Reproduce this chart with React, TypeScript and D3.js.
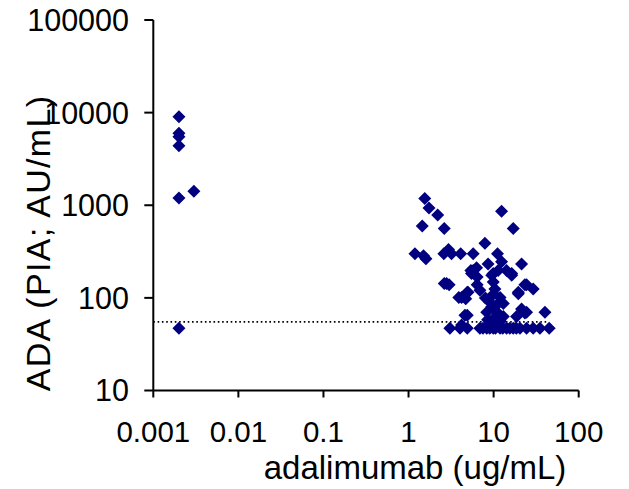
import React from "react";
import * as d3 from "d3";

const xTicks = [0.001, 0.01, 0.1, 1, 10, 100];
const yTicks = [10, 100, 1000, 10000, 100000];
const xTickLabels = ["0.001", "0.01", "0.1", "1", "10", "100"];
const yTickLabels = ["10", "100", "1000", "10000", "100000"];

const adaX = [
  0.002, 0.002, 0.002, 0.002, 0.002, 0.003, 0.002,
  1.55, 1.74, 2.2, 1.45, 2.63, 12.4, 17.0, 7.9,
  1.19, 1.5, 1.6, 2.6, 2.95, 3.2, 4.1, 5.75, 11.1, 12.4,
  8.6, 6.3, 5.4, 21.3, 14.2, 11.3, 9.5, 16.3, 6.4,
  2.63, 3.0, 6.4, 9.9, 23.3, 29.2, 19.5, 6.9, 10.35,
  3.9, 4.7, 4.9, 11.9, 13.0, 10.8, 21.3, 24.4, 40.1,
  4.9, 8.3, 13.0, 18.6, 2.8, 5.5, 4.2, 5.0, 4.6,
  16.3, 9.9, 24.4, 19.5, 23.3, 5.75, 8.0, 9.0, 10.0, 9.5, 11.0, 10.0, 8.5, 12.0,
  4.2, 9.0, 11.0,
  3.06, 4.02, 4.9, 6.9, 8.3, 9.9, 11.9, 14.2, 17.0, 20.4, 24.4, 29.2, 35.0, 45.0,
  7.5, 9.0, 10.5, 12.8, 15.5, 18.5,
];
const adaY = [
  9000, 6000, 5500, 4400, 1200, 1420, 47,
  1180, 935, 785, 597, 560, 861, 560, 388,
  300, 285, 265, 300, 332, 300, 300, 300, 300, 246,
  232, 212, 197, 232, 197, 197, 176, 176, 168,
  143, 139, 139, 148, 139, 125, 111, 121, 125,
  101, 98, 115, 101, 87, 83, 76, 70, 70,
  65, 70, 63, 63, 143, 183, 101, 115, 65,
  183, 183, 139, 115, 68.5, 197, 100, 90, 110, 80, 70, 60, 58, 56,
  51, 52, 53,
  47, 47, 47, 47, 47, 47, 47, 47, 47, 47, 47, 47, 47, 47,
  47, 47, 47, 47, 47, 47,
];
const cutoffX = [0.001, 42];
const cutoffY = [55, 55];

const W = 629;
const H = 489;
const FONT = "'Liberation Sans', Arial, sans-serif";

export default function App() {
  const x = d3.scaleLog().domain([0.001, 100]).range([153.3, 578.7]);
  const y = d3.scaleLog().domain([10, 100000]).range([390.5, 20]);
  const r = 6.5;
  const diamond = (cx: number, cy: number) =>
    `M${cx},${cy - r}L${cx + r},${cy}L${cx},${cy + r}L${cx - r},${cy}Z`;
  const line = d3
    .line<number>()
    .x((d) => x(d))
    .y((_, i) => y(cutoffY[i]));

  return (
    <svg
      width={W}
      height={H}
      style={{ position: "absolute", left: 0, top: 0, background: "#fff" }}
      fontFamily={FONT}
    >
      <rect width={W} height={H} fill="#fff" />
      <path
        d={line(cutoffX) || ""}
        stroke="#000"
        strokeWidth={1.6}
        strokeDasharray="1.6,2.7"
        fill="none"
      />
      {adaX.map((v, i) => (
        <path key={i} d={diamond(x(v), y(adaY[i]))} fill="#000080" />
      ))}
      <line x1={x(0.001)} x2={x(0.001)} y1={y(100000)} y2={y(10)} stroke="#000" strokeWidth={2} />
      {yTicks.map((t, i) => (
        <g key={t}>
          <line x1={x(0.001) - 9} x2={x(0.001)} y1={y(t)} y2={y(t)} stroke="#000" strokeWidth={2} />
          <text
            x={129}
            y={y(t)}
            dy="0.36em"
            textAnchor="end"
            fontSize={30.5}
            fill="#000"
          >
            {yTickLabels[i]}
          </text>
        </g>
      ))}
      <line x1={x(0.001)} x2={x(100)} y1={y(10)} y2={y(10)} stroke="#000" strokeWidth={2} />
      {xTicks.map((t, i) => (
        <g key={t}>
          <line x1={x(t)} x2={x(t)} y1={y(10)} y2={y(10) + 7} stroke="#000" strokeWidth={2} />
          <text x={x(t)} y={442} textAnchor="middle" fontSize={29.5} fill="#000">
            {xTickLabels[i]}
          </text>
        </g>
      ))}
      <text x={415} y={479} textAnchor="middle" fontSize={33} fill="#000">
        adalimumab (ug/mL)
      </text>
      <text
        transform={`translate(50,243) rotate(-90)`}
        textAnchor="middle"
        fontSize={34}
        letterSpacing={1.3}
        fill="#000"
      >
        ADA (PIA; AU/mL)
      </text>
    </svg>
  );
}
